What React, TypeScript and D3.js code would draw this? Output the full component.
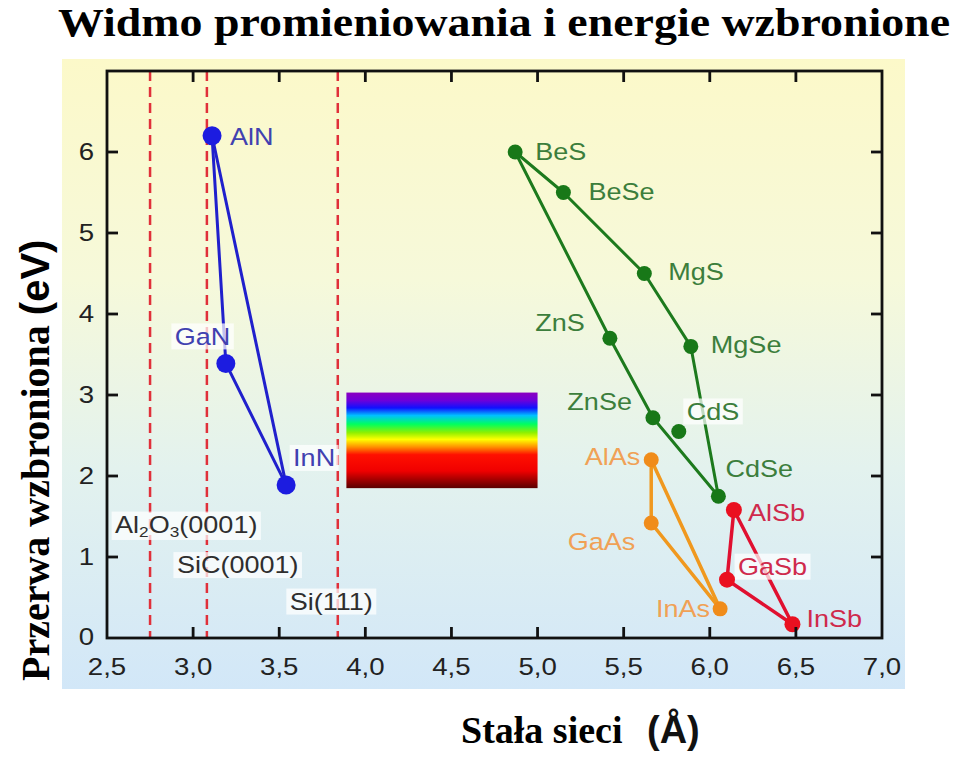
import React, { useEffect, useRef } from "react";
import * as d3 from "d3";

// ---------- data ----------
const xTicks = [2.5, 3.0, 3.5, 4.0, 4.5, 5.0, 5.5, 6.0, 6.5, 7.0];
const xTickLabels = ["2,5", "3,0", "3,5", "4,0", "4,5", "5,0", "5,5", "6,0", "6,5", "7,0"];
const yTicks = [0, 1, 2, 3, 4, 5, 6];
const yTickLabels = ["0", "1", "2", "3", "4", "5", "6"];

const nitrideNames = ["AlN", "GaN", "InN"];
const nitrideA = [3.11, 3.19, 3.54];
const nitrideEg = [6.2, 3.39, 1.89];
const nitrideLinks = [[0, 1], [1, 2], [0, 2]];

const iiviNames = ["BeS", "BeSe", "MgS", "MgSe", "ZnS", "ZnSe", "CdS", "CdSe"];
const iiviA = [4.87, 5.15, 5.62, 5.89, 5.42, 5.67, 5.82, 6.05];
const iiviEg = [6.0, 5.5, 4.5, 3.6, 3.7, 2.72, 2.55, 1.75];
const iiviLinks = [[0, 1], [1, 2], [2, 3], [3, 7], [0, 4], [4, 5], [5, 7]];

const arsenideNames = ["AlAs", "GaAs", "InAs"];
const arsenideA = [5.66, 5.66, 6.06];
const arsenideEg = [2.2, 1.42, 0.36];
const arsenideLinks = [[0, 1], [1, 2], [0, 2]];

const antimonideNames = ["AlSb", "GaSb", "InSb"];
const antimonideA = [6.14, 6.1, 6.48];
const antimonideEg = [1.58, 0.72, 0.17];
const antimonideLinks = [[0, 1], [1, 2], [0, 2]];

const substrateNames = ["Al2O3(0001)", "SiC(0001)", "Si(111)"];
const substrateA = [2.75, 3.08, 3.84];
const substrateLabelEg = [1.4, 0.9, 0.45];

const spectrumA = [3.89, 5.0];
const spectrumEg = [1.85, 3.03];

// ---------- styling ----------
const labelStyle: Record<string, { dx: number; dy: number; anchor: string; box?: boolean }> = {
  AlN: { dx: 18, dy: 1, anchor: "start" },
  GaN: { dx: -51, dy: -27, anchor: "start", box: true },
  InN: { dx: 7, dy: -27, anchor: "start", box: true },
  BeS: { dx: 20, dy: 0, anchor: "start" },
  BeSe: { dx: 25, dy: -1, anchor: "start" },
  MgS: { dx: 24, dy: -2, anchor: "start" },
  MgSe: { dx: 20, dy: -2, anchor: "start" },
  ZnS: { dx: -25, dy: -16, anchor: "end" },
  ZnSe: { dx: -21, dy: -16, anchor: "end" },
  CdS: { dx: 8, dy: -20, anchor: "start", box: true },
  CdSe: { dx: 7, dy: -28, anchor: "start" },
  AlAs: { dx: -11, dy: -3, anchor: "end" },
  GaAs: { dx: -16, dy: 19, anchor: "end" },
  InAs: { dx: -10, dy: 0, anchor: "end" },
  AlSb: { dx: 14, dy: 3, anchor: "start" },
  GaSb: { dx: 11, dy: -13, anchor: "start", box: true },
  InSb: { dx: 14, dy: -6, anchor: "start" },
};
const substrateDx = [-35, -30, -48];

export default function App() {
  const ref = useRef<SVGSVGElement>(null);

  useEffect(() => {
    const svg = d3.select(ref.current);
    svg.selectAll("*").remove();

    const x = d3.scaleLinear().domain([2.5, 7]).range([107, 882]);
    const y = d3.scaleLinear().domain([0, 7]).range([638, 71]);

    const defs = svg.append("defs");
    const bg = defs.append("linearGradient").attr("id", "bg").attr("x1", 0).attr("y1", 0).attr("x2", 0).attr("y2", 1);
    [["0", "#fcf9c9"], ["0.35", "#f6f9da"], ["0.65", "#e3f2ee"], ["1", "#d2e7f8"]].forEach(([o, c]) =>
      bg.append("stop").attr("offset", o).attr("stop-color", c)
    );
    const rb = defs.append("linearGradient").attr("id", "rainbow").attr("x1", 0).attr("y1", 0).attr("x2", 0).attr("y2", 1);
    [
      ["0", "#8a00c0"], ["0.08", "#7000d8"], ["0.16", "#1010ff"], ["0.24", "#00c0ff"],
      ["0.33", "#00ff60"], ["0.42", "#90f000"], ["0.49", "#ffff00"], ["0.57", "#ff9000"],
      ["0.65", "#ff1000"], ["0.82", "#f00000"], ["1", "#5a0000"],
    ].forEach(([o, c]) => rb.append("stop").attr("offset", o).attr("stop-color", c));

    // background panel
    svg.append("rect").attr("x", 62).attr("y", 59).attr("width", 843).attr("height", 630).attr("fill", "url(#bg)");

    // spectrum box
    svg.append("rect")
      .attr("x", x(spectrumA[0])).attr("y", y(spectrumEg[1]))
      .attr("width", x(spectrumA[1]) - x(spectrumA[0]))
      .attr("height", y(spectrumEg[0]) - y(spectrumEg[1]))
      .attr("fill", "url(#rainbow)");

    // substrate dashed lines
    substrateA.forEach((a) => {
      svg.append("line").attr("x1", x(a)).attr("x2", x(a)).attr("y1", y(7)).attr("y2", y(0))
        .attr("stroke", "#e0303a").attr("stroke-width", 2.5).attr("stroke-dasharray", "10,6");
    });

    const families = [
      { names: nitrideNames, a: nitrideA, eg: nitrideEg, links: nitrideLinks, color: "#2020cc", mark: "#1c1ce0", r: 9.5, label: "#4141b0", lw: 3 },
      { names: iiviNames, a: iiviA, eg: iiviEg, links: iiviLinks, color: "#1d7a1d", mark: "#187818", r: 7.5, label: "#3c7e3c", lw: 3 },
      { names: arsenideNames, a: arsenideA, eg: arsenideEg, links: arsenideLinks, color: "#f0981e", mark: "#f08c1a", r: 7.5, label: "#f0a155", lw: 3.5 },
      { names: antimonideNames, a: antimonideA, eg: antimonideEg, links: antimonideLinks, color: "#e01030", mark: "#ea1020", r: 8, label: "#cf2a4c", lw: 3.5 },
    ];

    // lines
    families.forEach((f) => {
      f.links.forEach(([i, j]) => {
        svg.append("line")
          .attr("x1", x(f.a[i])).attr("y1", y(f.eg[i]))
          .attr("x2", x(f.a[j])).attr("y2", y(f.eg[j]))
          .attr("stroke", f.color).attr("stroke-width", f.lw).attr("stroke-linecap", "round");
      });
    });

    const addLabel = (
      px: number, py: number, anchor: string, color: string, box: boolean,
      build: (t: any) => void
    ) => {
      const g = svg.append("g").attr("transform", `translate(${px},${py}) scale(1.15,1)`);
      const rect = g.append("rect");
      const t = g.append("text")
        .attr("text-anchor", anchor)
        .attr("dominant-baseline", "central")
        .attr("font-family", "'Liberation Sans', Arial, sans-serif")
        .attr("font-size", 23.5)
        .attr("fill", color);
      build(t);
      if (box) {
        const bb = (t.node() as SVGTextElement).getBBox();
        rect.attr("x", bb.x - 3).attr("y", bb.y).attr("width", bb.width + 6).attr("height", bb.height)
          .attr("fill", "#ffffff").attr("fill-opacity", 0.72);
      } else rect.remove();
    };

    // substrate labels
    substrateNames.forEach((n, i) => {
      addLabel(x(substrateA[i]) + substrateDx[i], y(substrateLabelEg[i]), "start", "#2e2e2e", true, (t) => {
        if (n.startsWith("Al2O3")) {
          t.append("tspan").text("Al");
          t.append("tspan").attr("font-size", 15).attr("dy", 7).text("2");
          t.append("tspan").attr("dy", -7).text("O");
          t.append("tspan").attr("font-size", 15).attr("dy", 7).text("3");
          t.append("tspan").attr("dy", -7).text("(0001)");
        } else t.text(n);
      });
    });

    // point labels
    families.forEach((f) => {
      f.names.forEach((n, i) => {
        const s = labelStyle[n];
        addLabel(x(f.a[i]) + s.dx, y(f.eg[i]) + s.dy, s.anchor, f.label, !!s.box, (t) => t.text(n));
      });
    });

    // markers
    families.forEach((f) => {
      f.names.forEach((_, i) => {
        svg.append("circle").attr("cx", x(f.a[i])).attr("cy", y(f.eg[i])).attr("r", f.r).attr("fill", f.mark);
      });
    });

    // frame and ticks
    svg.append("rect").attr("x", 107).attr("y", 71).attr("width", 775).attr("height", 567)
      .attr("fill", "none").attr("stroke", "#111").attr("stroke-width", 2.8);
    const tk = 11;
    xTicks.forEach((v, i) => {
      if (i > 0 && i < xTicks.length - 1) {
        svg.append("line").attr("x1", x(v)).attr("x2", x(v)).attr("y1", y(0)).attr("y2", y(0) - tk).attr("stroke", "#111").attr("stroke-width", 2.8);
        svg.append("line").attr("x1", x(v)).attr("x2", x(v)).attr("y1", y(7)).attr("y2", y(7) + tk).attr("stroke", "#111").attr("stroke-width", 2.8);
      }
      svg.append("text")
        .attr("transform", `translate(${x(v)},${667}) scale(1.15,1)`)
        .attr("text-anchor", "middle").attr("dominant-baseline", "central")
        .attr("font-family", "'Liberation Sans', Arial, sans-serif").attr("font-size", 24)
        .attr("fill", "#222").text(xTickLabels[i]);
    });
    yTicks.forEach((v, i) => {
      if (v > 0) {
        svg.append("line").attr("x1", 107).attr("x2", 107 + tk).attr("y1", y(v)).attr("y2", y(v)).attr("stroke", "#111").attr("stroke-width", 2.8);
        svg.append("line").attr("x1", 882).attr("x2", 882 - tk).attr("y1", y(v)).attr("y2", y(v)).attr("stroke", "#111").attr("stroke-width", 2.8);
      }
      svg.append("text")
        .attr("transform", `translate(${94},${y(v) - (v === 0 ? 1 : 0)}) scale(1.15,1)`)
        .attr("text-anchor", "end").attr("dominant-baseline", "central")
        .attr("font-family", "'Liberation Sans', Arial, sans-serif").attr("font-size", 24)
        .attr("fill", "#222").text(yTickLabels[i]);
    });

    // title
    svg.append("text").attr("x", 58).attr("y", 36)
      .attr("font-family", "'Liberation Serif', 'Times New Roman', serif").attr("font-weight", "bold")
      .attr("font-size", 40).attr("textLength", 892).attr("lengthAdjust", "spacingAndGlyphs")
      .attr("fill", "#000").text("Widmo promieniowania i energie wzbronione");

    // x label
    svg.append("text").attr("x", 461).attr("y", 743)
      .attr("font-family", "'Liberation Serif', 'Times New Roman', serif").attr("font-weight", "bold")
      .attr("font-size", 38).attr("fill", "#000").text("Stała sieci");
    svg.append("text").attr("x", 647).attr("y", 743)
      .attr("font-family", "'Liberation Sans', Arial, sans-serif").attr("font-weight", "bold")
      .attr("font-size", 38).attr("fill", "#111").text("(Å)");

    // y label
    const yl = svg.append("text").attr("transform", "translate(49,681) rotate(-90)")
      .attr("font-weight", "bold").attr("font-size", 40).attr("fill", "#000");
    yl.append("tspan").attr("font-family", "'Liberation Serif', 'Times New Roman', serif").text("Przerwa wzbroniona ");
    yl.append("tspan").attr("font-family", "'Liberation Sans', Arial, sans-serif").text("(eV)");
  }, []);

  return (
    <svg
      ref={ref}
      width={960}
      height={758}
      style={{ position: "absolute", left: 0, top: 0, background: "#fff" }}
    />
  );
}
